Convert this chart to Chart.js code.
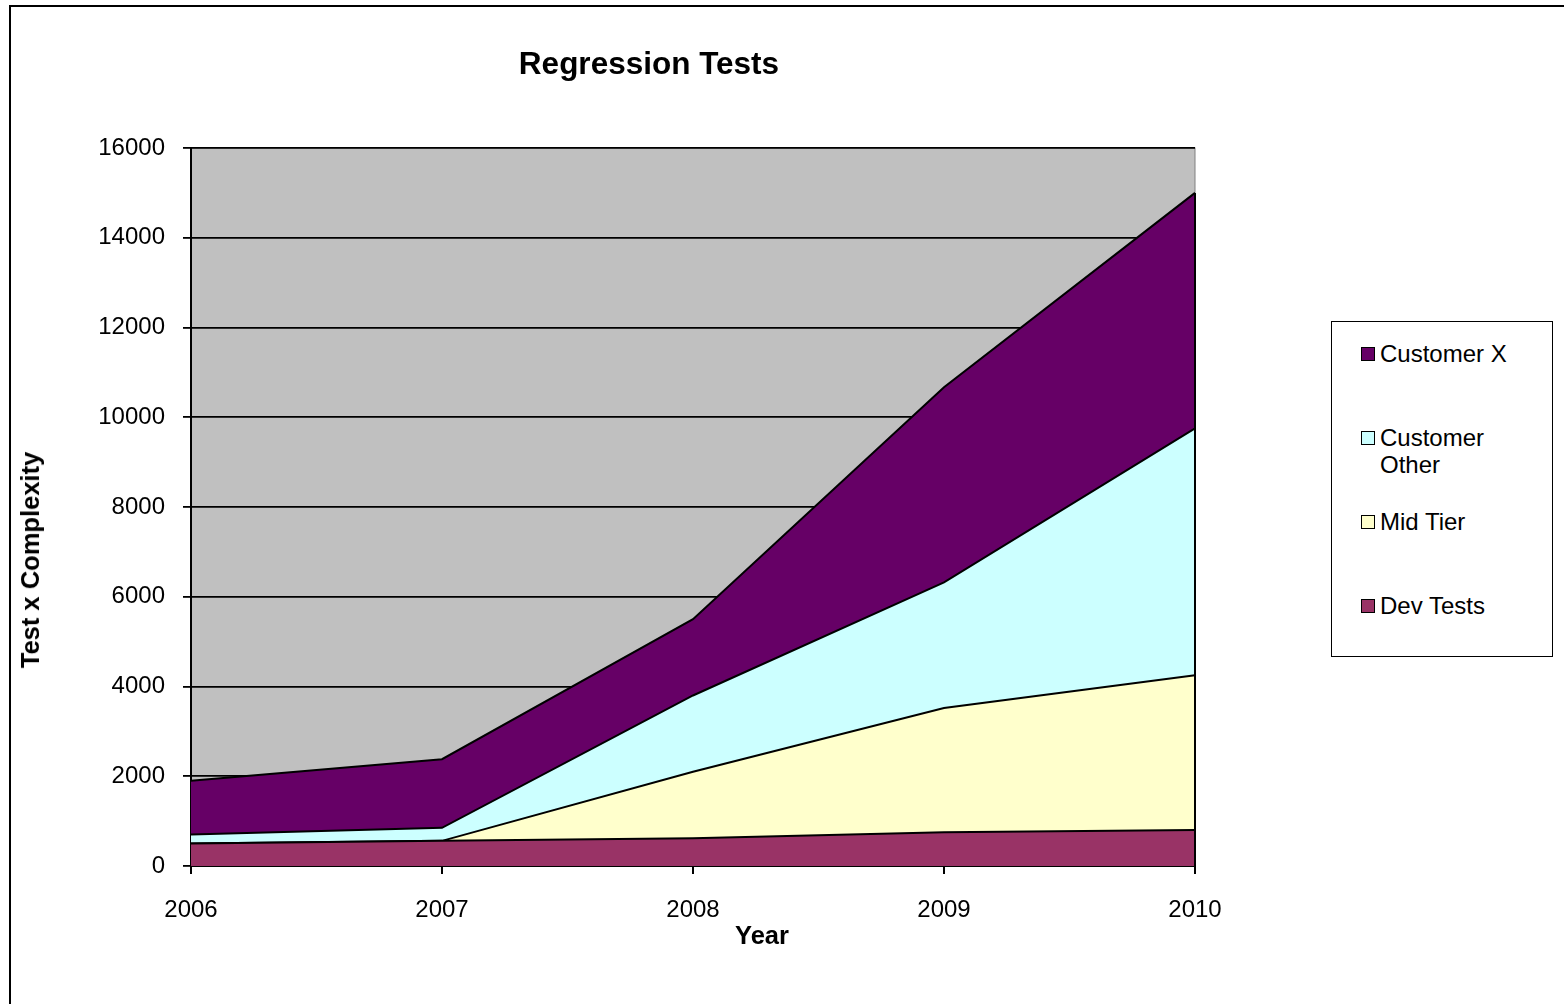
<!DOCTYPE html>
<html>
<head>
<meta charset="utf-8">
<script src="https://cdn.jsdelivr.net/npm/chart.js@4.4.1/dist/chart.umd.min.js"></script>
<style>
  html, body { margin: 0; padding: 0; background: #fff; overflow: hidden; }
  #wrap { position: relative; width: 1564px; height: 1004px; font-family: "Liberation Sans", Arial, sans-serif; }
  #frame { position: absolute; left: 9px; top: 5px; width: 1600px; height: 1100px; border: 2px solid #000; box-sizing: border-box; }
  #chart { position: absolute; left: 0; top: 0; }
  #title { position: absolute; left: 349px; top: 44px; width: 600px; text-align: center; font-weight: bold; font-size: 31.5px; line-height: 38px; color: #000; }
  #ytitle { position: absolute; left: 30px; top: 560px; transform: translate(-50%, -50%) rotate(-90deg); white-space: nowrap; font-weight: bold; font-size: 25.5px; line-height: 30px; color: #000; }
  #xtitle { position: absolute; left: 762px; top: 935px; transform: translate(-50%, -50%); white-space: nowrap; font-weight: bold; font-size: 25.5px; line-height: 30px; color: #000; }
  #legend { position: absolute; left: 1331px; top: 321px; width: 222px; height: 336px; border: 1.5px solid #000; box-sizing: border-box; background: #fff; padding-top: 18px; }
  .item { height: 84px; display: flex; align-items: flex-start; padding-left: 29px; }
  .box { width: 12px; height: 12px; border: 1.5px solid #000; margin-top: 7px; margin-right: 5px; flex: none; }
  .lbl { font-size: 24px; line-height: 27px; color: #000; max-width: 140px; }
</style>
</head>
<body>
<div id="wrap">
  <div id="frame"></div>
  <canvas id="chart" width="1564" height="1004"></canvas>
  <div id="title">Regression Tests</div>
  <div id="ytitle">Test x Complexity</div>
  <div id="xtitle">Year</div>
  <div id="legend"></div>
</div>
<script>
// Données (valeurs empilées par série)
const years = ['2006', '2007', '2008', '2009', '2010'];
const devTests = [500, 560, 620, 750, 800];
const midTier = [0, 0, 1480, 2770, 3450];
const customerOther = [200, 290, 1700, 2800, 5500];
const customerX = [1200, 1530, 1700, 4350, 5250];

const seriesNames = ['Dev Tests', 'Mid Tier', 'Customer Other', 'Customer X'];
const seriesColors = ['#993366', '#FFFFCC', '#CCFFFF', '#660066'];
const seriesData = [devTests, midTier, customerOther, customerX];

const yMin = 0, yMax = 16000, yStep = 2000;

// Fond gris de la zone de tracé
const plotBackground = {
    id: 'plotBackground',
    beforeDraw(chart) {
        const {ctx, chartArea} = chart;
        ctx.save();
        ctx.fillStyle = '#C0C0C0';
        ctx.fillRect(chartArea.left, chartArea.top, chartArea.right - chartArea.left, chartArea.bottom - chartArea.top);
        ctx.strokeStyle = '#808080';
        ctx.lineWidth = 1;
        ctx.strokeRect(chartArea.left, chartArea.top, chartArea.right - chartArea.left, chartArea.bottom - chartArea.top);
        ctx.restore();
    }
};

// Bord vertical des aires au dernier point (comme Excel)
const rightEdge = {
    id: 'rightEdge',
    afterDatasetsDraw(chart) {
        const {ctx, scales} = chart;
        const last = years.length - 1;
        const total = seriesData.reduce((s, d) => s + d[last], 0);
        const x = scales.x.getPixelForValue(last);
        ctx.save();
        ctx.strokeStyle = '#000';
        ctx.lineWidth = 2;
        ctx.beginPath();
        ctx.moveTo(x, scales.y.getPixelForValue(total));
        ctx.lineTo(x, scales.y.getPixelForValue(0));
        ctx.stroke();
        ctx.restore();
    }
};

const ctx = document.getElementById('chart').getContext('2d');

const chart = new Chart(ctx, {
    type: 'line',
    data: {
        labels: years,
        datasets: seriesNames.map((name, i) => ({
            label: name,
            data: seriesData[i],
            backgroundColor: seriesColors[i],
            borderColor: '#000',
            borderWidth: 2,
            fill: i === 0 ? 'origin' : '-1',
            pointRadius: 0,
            tension: 0
        }))
    },
    options: {
        responsive: false,
        animation: false,
        layout: { padding: { left: 12, right: 369, top: 148, bottom: 0 } },
        plugins: {
            legend: { display: false },
            title: { display: false },
            tooltip: { enabled: false }
        },
        scales: {
            x: {
                offset: false,
                grid: { drawOnChartArea: false, drawTicks: true, tickLength: 8, color: '#000', lineWidth: 2 },
                border: { color: '#000', width: 2 },
                ticks: { color: '#000', padding: 22, maxRotation: 0, font: { family: 'Liberation Sans', size: 24 } },
                afterFit(scale) { scale.height = 1004 - 866; }
            },
            y: {
                stacked: true,
                min: yMin,
                max: yMax,
                grid: { color: '#000', lineWidth: 1.8, tickLength: 8 },
                border: { color: '#000', width: 2 },
                ticks: {
                    stepSize: yStep,
                    color: '#000',
                    padding: 18,
                    font: { family: 'Liberation Sans', size: 24 },
                    callback: v => String(v)
                },
                afterFit(scale) { scale.width = 191 - 12; }
            }
        }
    },
    plugins: [plotBackground, rightEdge]
});

// Légende construite à partir des séries (ordre inversé comme l'original)
const legend = document.getElementById('legend');
chart.data.datasets.slice().reverse().forEach(ds => {
    const item = document.createElement('div');
    item.className = 'item';
    item.innerHTML = `<span class="box" style="background:${ds.backgroundColor}"></span><span class="lbl">${ds.label}</span>`;
    legend.appendChild(item);
});
</script>
</body>
</html>
